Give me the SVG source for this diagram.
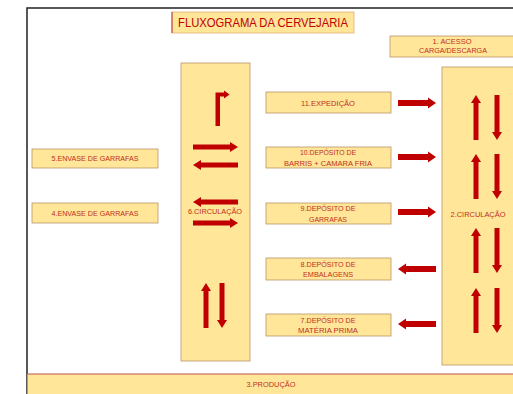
<svg xmlns="http://www.w3.org/2000/svg" xmlns:xlink="http://www.w3.org/1999/xlink" width="513" height="394" viewBox="0 0 513 394">
<style>
.box{fill:#ffe699;stroke:#b8936a;stroke-width:0.8}
.t{font-family:"Liberation Sans",Arial,sans-serif;font-size:7.2px;fill:#c0301a;text-anchor:middle}
.title{font-family:"Liberation Sans",Arial,sans-serif;font-size:13px;fill:#c00000;text-anchor:middle}
.arr{fill:#c00000}
</style>
<defs>
<path id="a38" d="M0,-3 H30 V-5.5 L38,0 L30,5.5 V3 H0 Z"/>
<path id="a45" d="M0,-2.5 H37 V-5 L45,0 L37,5 V2.5 H0 Z"/>
</defs>
<rect width="513" height="394" fill="#ffffff"/>
<g id="frame" fill="none" stroke="#222222" stroke-width="1.5">
<path d="M27,394 V8 H513"/>
</g>
<g id="producao">
<rect x="27.5" y="374" width="486" height="22" fill="#ffe699"/>
<line x1="27.5" y1="374" x2="513" y2="374" stroke="#c0504d" stroke-width="1"/>
<text class="t" x="271" y="386.5" textLength="49" lengthAdjust="spacingAndGlyphs">3.PRODUÇÃO</text>
</g>
<g id="titulo">
<rect x="172" y="12" width="182" height="21" fill="#ffe699" stroke="#e0b070" stroke-width="0.8"/>
<line x1="172" y1="12" x2="172" y2="33" stroke="#c0504d" stroke-width="1.2"/>
<text class="title" x="263" y="27" textLength="170" lengthAdjust="spacingAndGlyphs">FLUXOGRAMA DA CERVEJARIA</text>
</g>
<g id="acesso">
<rect class="box" x="390" y="36" width="125" height="21"/>
<text class="t" x="452" y="44" textLength="39" lengthAdjust="spacingAndGlyphs">1. ACESSO</text>
<text class="t" x="453" y="53" textLength="68" lengthAdjust="spacingAndGlyphs">CARGA/DESCARGA</text>
</g>
<g id="circulacao2">
<rect class="box" x="442" y="67" width="73" height="298"/>
<text class="t" x="478" y="217" textLength="55" lengthAdjust="spacingAndGlyphs">2.CIRCULAÇÃO</text>
</g>
<g id="circulacao6">
<rect class="box" x="181" y="63" width="69" height="298"/>
<text class="t" x="215" y="213.5" textLength="54" lengthAdjust="spacingAndGlyphs">6.CIRCULAÇÃO</text>
</g>
<g id="envase5">
<rect class="box" x="32" y="149" width="126" height="19"/>
<text class="t" x="95" y="161" textLength="87" lengthAdjust="spacingAndGlyphs">5.ENVASE DE GARRAFAS</text>
</g>
<g id="envase4">
<rect class="box" x="32" y="203" width="126" height="20"/>
<text class="t" x="95" y="215.5" textLength="87" lengthAdjust="spacingAndGlyphs">4.ENVASE DE GARRAFAS</text>
</g>
<g id="expedicao11">
<rect class="box" x="266" y="92" width="125" height="21"/>
<text class="t" x="328" y="105.5" textLength="54" lengthAdjust="spacingAndGlyphs">11.EXPEDIÇÃO</text>
</g>
<g id="deposito10">
<rect class="box" x="266" y="147" width="125" height="21"/>
<text class="t" x="328" y="155" textLength="56" lengthAdjust="spacingAndGlyphs">10.DEPÓSITO DE</text>
<text class="t" x="328" y="165.5" textLength="88" lengthAdjust="spacingAndGlyphs">BARRIS + CAMARA FRIA</text>
</g>
<g id="deposito9">
<rect class="box" x="266" y="203" width="125" height="21"/>
<text class="t" x="328" y="211" textLength="55" lengthAdjust="spacingAndGlyphs">9.DEPÓSITO DE</text>
<text class="t" x="328" y="221.5" textLength="38" lengthAdjust="spacingAndGlyphs">GARRAFAS</text>
</g>
<g id="deposito8">
<rect class="box" x="266" y="258" width="125" height="22"/>
<text class="t" x="328" y="266.5" textLength="55" lengthAdjust="spacingAndGlyphs">8.DEPÓSITO DE</text>
<text class="t" x="328" y="277" textLength="50" lengthAdjust="spacingAndGlyphs">EMBALAGENS</text>
</g>
<g id="deposito7">
<rect class="box" x="266" y="314" width="125" height="22"/>
<text class="t" x="328" y="322.5" textLength="55" lengthAdjust="spacingAndGlyphs">7.DEPÓSITO DE</text>
<text class="t" x="328" y="333" textLength="60" lengthAdjust="spacingAndGlyphs">MATÉRIA PRIMA</text>
</g>
<g id="connectors" class="arr">
<use xlink:href="#a38" transform="translate(398,103)"/>
<use xlink:href="#a38" transform="translate(398,157)"/>
<use xlink:href="#a38" transform="translate(398,212)"/>
<use xlink:href="#a38" transform="translate(436,269) rotate(180)"/>
<use xlink:href="#a38" transform="translate(436,324) rotate(180)"/>
<use xlink:href="#a45" transform="translate(476,140) rotate(-90)"/>
<use xlink:href="#a45" transform="translate(497,95) rotate(90)"/>
<use xlink:href="#a45" transform="translate(476,199) rotate(-90)"/>
<use xlink:href="#a45" transform="translate(497,154) rotate(90)"/>
<use xlink:href="#a45" transform="translate(476,273) rotate(-90)"/>
<use xlink:href="#a45" transform="translate(497,228) rotate(90)"/>
<use xlink:href="#a45" transform="translate(476,333) rotate(-90)"/>
<use xlink:href="#a45" transform="translate(497,288) rotate(90)"/>
<use xlink:href="#a45" transform="translate(193,147)"/>
<use xlink:href="#a45" transform="translate(238,165) rotate(180)"/>
<use xlink:href="#a45" transform="translate(238,202) rotate(180)"/>
<use xlink:href="#a45" transform="translate(193,223)"/>
<use xlink:href="#a45" transform="translate(206,328) rotate(-90)"/>
<use xlink:href="#a45" transform="translate(222,283) rotate(90)"/>
<polygon points="215.5,126 215.5,92.5 224,92.5 224,90.5 229.5,94.5 224,98.5 224,96.5 220,96.5 220,126"/>
</g>
</svg>
